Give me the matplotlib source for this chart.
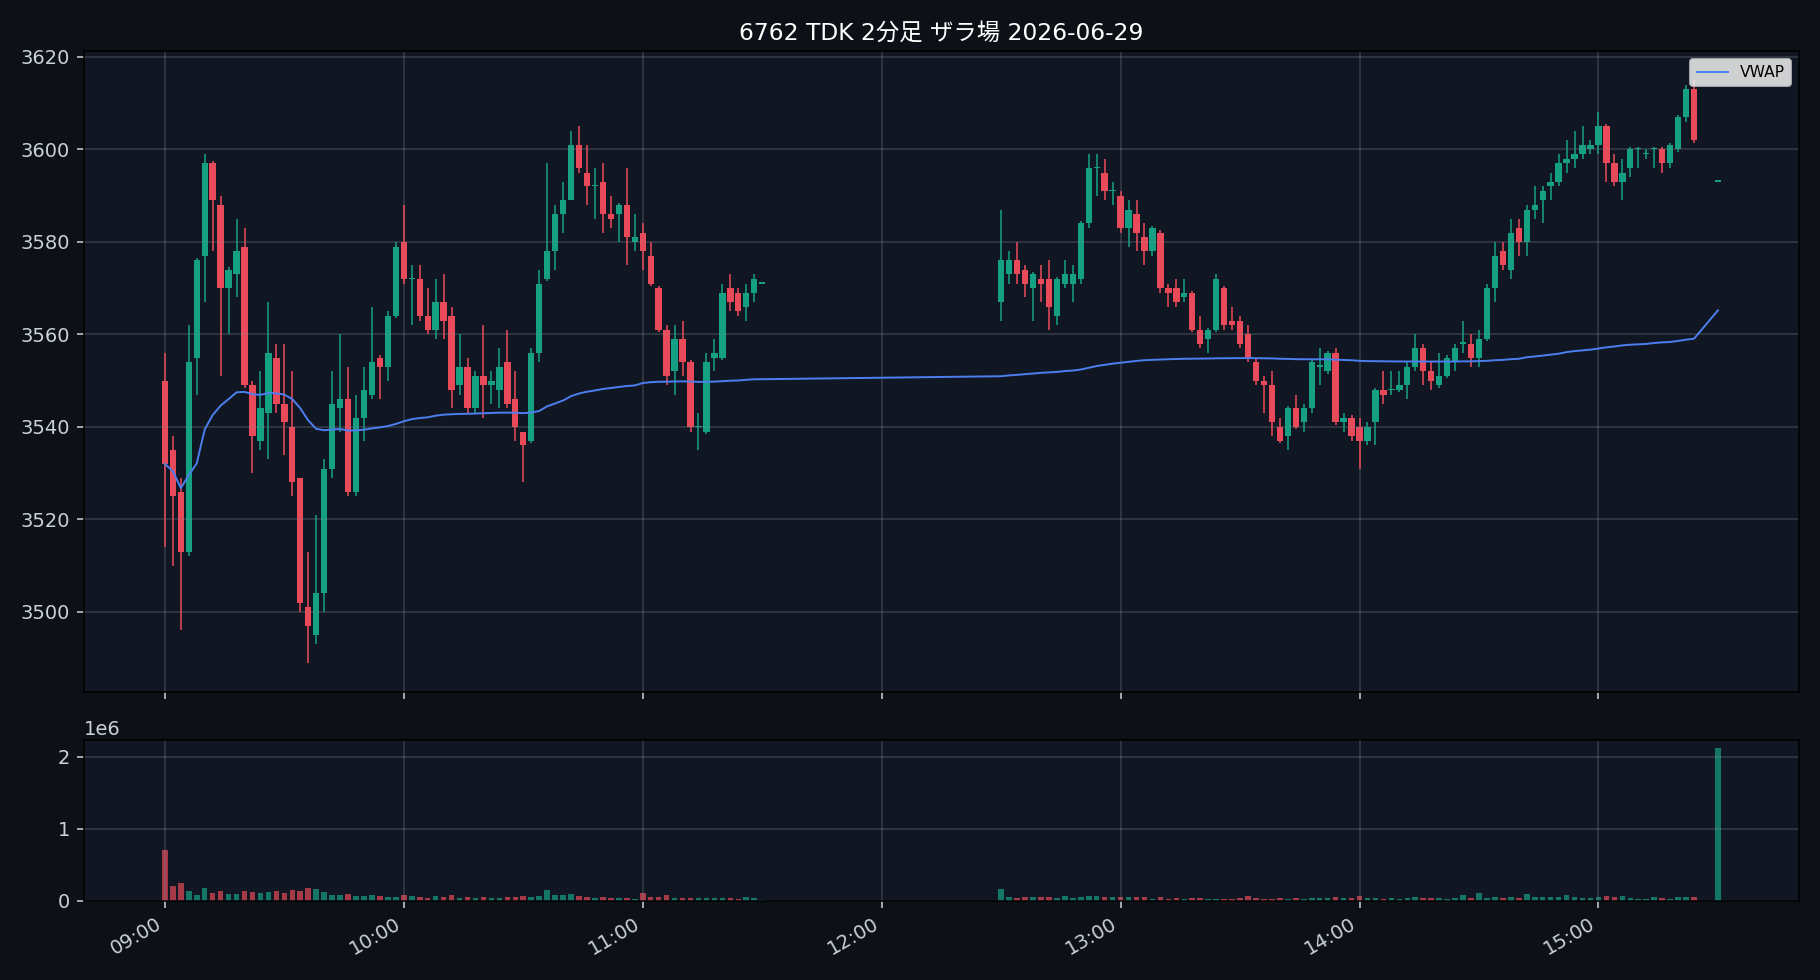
import pandas as pd
import matplotlib
matplotlib.use('Agg')
import matplotlib.pyplot as plt
import matplotlib.dates as mdates

plt.rcParams['font.family'] = ['DejaVu Sans', 'Noto Sans CJK JP']

# 前場 2分足 09:00-11:30
am_open = [3550, 3535, 3526, 3513, 3555, 3577, 3597, 3588, 3570, 3573,
           3579, 3549, 3537, 3543, 3555, 3545, 3540, 3529, 3501, 3495,
           3504, 3531, 3544, 3546, 3526, 3542, 3547, 3555, 3553, 3564,
           3580, 3572, 3572, 3564, 3561, 3567, 3564, 3549, 3553, 3544,
           3551, 3549, 3548, 3554, 3546, 3539, 3537, 3556, 3572, 3578,
           3586, 3589, 3601, 3595, 3592, 3593, 3586, 3586, 3588, 3580,
           3582, 3577, 3570, 3561, 3552, 3559, 3554, 3540, 3539, 3555,
           3555, 3570, 3569, 3566, 3569, 3571]
am_high = [3556, 3538, 3529, 3562, 3576.5, 3599, 3597.5, 3590, 3574.5, 3585,
           3583, 3550, 3552, 3567, 3558, 3558, 3552, 3529, 3513, 3521,
           3533, 3552, 3560, 3553, 3547, 3553, 3566, 3555.5, 3565, 3580,
           3588, 3575, 3575, 3570, 3572, 3573, 3566, 3560, 3555, 3552,
           3562, 3552, 3557, 3561, 3552, 3539, 3557, 3574, 3597, 3588,
           3593, 3604, 3605, 3601, 3596, 3597, 3590, 3588.5, 3596, 3586,
           3584, 3580, 3570.5, 3562, 3562, 3563, 3554.5, 3543, 3556, 3559,
           3571, 3573, 3570, 3571, 3573, 3571]
am_low = [3514, 3510, 3496, 3512, 3547, 3567, 3578, 3551, 3560, 3568,
          3548.5, 3530, 3535, 3533, 3543, 3534, 3525, 3500, 3489, 3493,
          3500, 3529, 3539, 3525, 3525, 3537, 3546, 3546, 3550, 3563.5,
          3571, 3562, 3563, 3560, 3559, 3559, 3544, 3547, 3543, 3543,
          3542, 3545, 3544, 3544, 3537, 3528, 3536.5, 3554, 3571.5, 3574,
          3582, 3589, 3595, 3588, 3585, 3582, 3583, 3580, 3575, 3578,
          3574, 3570.5, 3560.5, 3549, 3547, 3551, 3539, 3535, 3538.5, 3552,
          3554.5, 3565, 3564, 3563, 3567, 3571]
am_close = [3532, 3525, 3513, 3554, 3576, 3597, 3589, 3570, 3574, 3578,
            3549, 3538, 3544, 3556, 3545, 3541, 3528, 3502, 3497, 3504,
            3531, 3545, 3546, 3526, 3542, 3548, 3554, 3553, 3564, 3579,
            3572, 3572, 3564, 3561, 3567, 3563, 3548, 3553, 3544, 3551,
            3549, 3550, 3553, 3545, 3540, 3536, 3556, 3571, 3578, 3586,
            3589, 3601, 3596, 3592, 3592, 3586, 3585, 3588, 3581, 3581,
            3578, 3571, 3561, 3551, 3559, 3554, 3540, 3540, 3554, 3556,
            3569, 3567, 3565, 3569, 3572, 3571]
am_volume = [0.70, 0.20, 0.24, 0.13, 0.074, 0.171, 0.102, 0.13, 0.088, 0.088,
             0.13, 0.116, 0.102, 0.116, 0.13, 0.102, 0.144, 0.13, 0.171, 0.157,
             0.116, 0.074, 0.074, 0.088, 0.06, 0.06, 0.074, 0.06, 0.046, 0.046,
             0.074, 0.06, 0.046, 0.032, 0.06, 0.046, 0.074, 0.032, 0.046, 0.032,
             0.046, 0.032, 0.032, 0.046, 0.046, 0.06, 0.046, 0.06, 0.144, 0.074,
             0.074, 0.088, 0.06, 0.046, 0.032, 0.046, 0.032, 0.032, 0.032, 0.019,
             0.102, 0.046, 0.046, 0.074, 0.032, 0.032, 0.032, 0.032, 0.032, 0.032,
             0.032, 0.032, 0.019, 0.046, 0.032, 0.004]

# 後場 2分足 12:30-15:24 + 大引け 15:30
pm_open = [3567, 3573, 3576, 3574, 3570, 3572, 3572, 3564, 3571, 3571,
           3572, 3584, 3596, 3595, 3591, 3590, 3583, 3586, 3581, 3578,
           3582, 3570, 3570, 3568, 3569, 3561, 3559, 3561, 3570, 3563,
           3563, 3560, 3554, 3550, 3549, 3540, 3538, 3544, 3541, 3544,
           3553, 3552, 3556, 3541, 3542, 3540, 3537, 3541, 3548, 3548,
           3548, 3549, 3553, 3557, 3552, 3549, 3551, 3554, 3558, 3558,
           3555, 3559, 3570, 3578, 3574, 3583, 3580, 3587, 3589, 3592,
           3593, 3597, 3598, 3599, 3600, 3601, 3605, 3597, 3593, 3596,
           3600, 3599, 3600, 3600, 3597, 3600, 3607, 3613, 3593]
pm_high = [3587, 3578, 3580, 3575, 3573.5, 3575, 3576, 3572.5, 3576, 3575,
           3584.5, 3599, 3599, 3598, 3593, 3591, 3589, 3589, 3584, 3583.5,
           3582.5, 3571, 3572, 3572, 3569.5, 3564, 3561.5, 3573, 3570.5, 3566,
           3564, 3562, 3555, 3551, 3552, 3542, 3544.5, 3547, 3545, 3554.5,
           3557, 3556.5, 3557, 3543, 3542.5, 3542, 3541, 3548.5, 3552, 3552,
           3552, 3554, 3560, 3558, 3554, 3556, 3555.5, 3558, 3563, 3560,
           3561, 3571, 3580, 3580, 3585, 3585, 3588, 3592, 3592, 3595,
           3599, 3602, 3604, 3605, 3602, 3608, 3605.5, 3599, 3598, 3600.5,
           3600.5, 3600, 3600.5, 3600.5, 3601.5, 3607.5, 3614, 3615, 3593]
pm_low = [3563, 3571, 3571, 3568, 3563, 3567, 3561, 3562, 3570, 3567,
          3571, 3583, 3590, 3589, 3588, 3582, 3579, 3578, 3575, 3577,
          3569, 3566, 3566, 3567, 3560.5, 3557, 3556, 3560.5, 3561, 3561,
          3557, 3554, 3549, 3543, 3538, 3536.5, 3535, 3539.5, 3539, 3543,
          3549, 3551.5, 3540.5, 3539, 3537, 3531, 3536, 3536, 3545, 3547,
          3547.5, 3546, 3552, 3549, 3548, 3548.5, 3550.5, 3552, 3556, 3553,
          3553, 3558.5, 3567, 3574, 3572, 3577, 3577, 3585, 3584, 3589,
          3592, 3595, 3596, 3598, 3599, 3599, 3593, 3592, 3589, 3594,
          3596, 3598, 3596, 3595, 3596, 3599.5, 3606, 3601.5, 3593]
pm_close = [3576, 3576, 3573, 3571, 3573, 3571, 3566, 3572, 3573, 3573,
            3584, 3596, 3596, 3591, 3591, 3583, 3587, 3582, 3578, 3583,
            3570, 3569, 3567, 3569, 3561, 3558, 3561, 3572, 3562, 3562,
            3558, 3555, 3550, 3549, 3541, 3537, 3544, 3540, 3544, 3554,
            3553, 3556, 3541, 3542, 3538, 3537, 3540, 3548, 3547, 3548,
            3549, 3553, 3557, 3552, 3550, 3551, 3555, 3557, 3558, 3555,
            3559, 3570, 3577, 3575, 3582, 3580, 3587, 3588, 3591, 3593,
            3597, 3598, 3599, 3601, 3601, 3605, 3597, 3593, 3595, 3600,
            3600, 3599, 3600, 3597, 3601, 3607, 3613, 3602, 3593]
pm_volume = [0.158, 0.046, 0.032, 0.046, 0.046, 0.046, 0.046, 0.032, 0.06, 0.032,
             0.046, 0.06, 0.06, 0.046, 0.046, 0.046, 0.046, 0.046, 0.046, 0.019,
             0.046, 0.019, 0.032, 0.019, 0.032, 0.032, 0.019, 0.019, 0.019, 0.019,
             0.032, 0.06, 0.032, 0.019, 0.019, 0.032, 0.019, 0.032, 0.019, 0.032,
             0.032, 0.032, 0.046, 0.032, 0.032, 0.06, 0.032, 0.032, 0.019, 0.032,
             0.019, 0.032, 0.046, 0.032, 0.032, 0.032, 0.019, 0.032, 0.074, 0.032,
             0.102, 0.032, 0.046, 0.032, 0.046, 0.032, 0.088, 0.046, 0.046, 0.046,
             0.046, 0.074, 0.046, 0.032, 0.032, 0.046, 0.06, 0.046, 0.06, 0.032,
             0.019, 0.019, 0.046, 0.032, 0.019, 0.046, 0.046, 0.046, 2.12]

am_time = pd.date_range('2026-06-29 09:00', '2026-06-29 11:30', freq='2min')
pm_time = pd.date_range('2026-06-29 12:30', '2026-06-29 15:24', freq='2min')
pm_time = pm_time.append(pd.DatetimeIndex(['2026-06-29 15:30']))

df = pd.DataFrame({
    'open': am_open + pm_open,
    'high': am_high + pm_high,
    'low': am_low + pm_low,
    'close': am_close + pm_close,
    'volume': [v * 1e6 for v in am_volume + pm_volume],
}, index=am_time.append(pm_time))

df['vwap'] = (df['close'] * df['volume']).cumsum() / df['volume'].cumsum()

up_color = '#16a083'
down_color = '#e84a5a'
colors = [up_color if c >= o else down_color for o, c in zip(df['open'], df['close'])]

x = mdates.date2num(df.index.to_pydatetime())
bar_w = 1.6 / 1440
vol_w = 1.4 / 1440

fig, (ax, axv) = plt.subplots(2, 1, figsize=(13, 7), dpi=140, sharex=True,
                              gridspec_kw={'height_ratios': [4, 1]})
fig.patch.set_facecolor('#0d1117')

# ローソク足
body_h = (df['close'] - df['open']).abs().clip(lower=0.3)
body_b = df[['open', 'close']].min(axis=1)
ax.vlines(x, df['low'], df['high'], colors=colors, linewidth=0.8)
ax.bar(x, body_h, bottom=body_b, width=bar_w, color=colors)
ax.plot(x, df['vwap'], color='#4c7ef0', linewidth=1.0, label='VWAP')
ax.legend(loc='upper right', fontsize=8)
ax.set_title('6762 TDK 2分足 ザラ場 2026-06-29', color='white')

# 出来高
axv.bar(x, df['volume'], width=vol_w, color=colors, alpha=0.7)

for a in (ax, axv):
    a.set_facecolor('#111722')
    a.grid(True, color='#8b949e', alpha=0.3, linewidth=0.8)
    a.tick_params(colors='#c9d1d9')
    a.yaxis.get_offset_text().set_color('#c9d1d9')

axv.xaxis.set_major_locator(mdates.HourLocator())
axv.xaxis.set_major_formatter(mdates.DateFormatter('%H:%M'))
fig.autofmt_xdate()
plt.subplots_adjust(left=0.046, right=0.9885, top=0.948, bottom=0.081, hspace=0.121)

plt.savefig('out.png', facecolor=fig.get_facecolor())
